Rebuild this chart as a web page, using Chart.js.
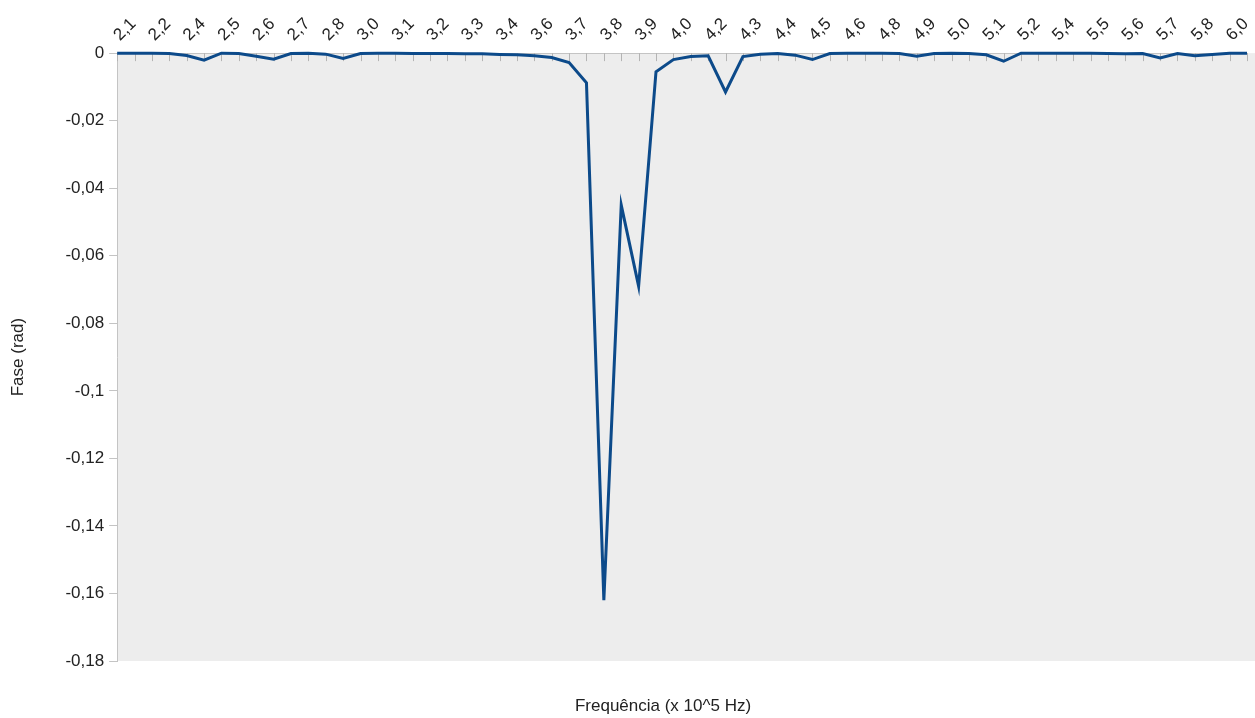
<!DOCTYPE html>
<html>
<head>
<meta charset="utf-8">
<script src="https://cdn.jsdelivr.net/npm/chart.js@4"></script>
<style>
  body { margin: 0; background: #fff; }
  #wrap { width: 1255px; height: 718px; }
</style>
</head>
<body>
<div id="wrap"><canvas id="faseChart"></canvas></div>
<script>
// tick labels shown on the top axis (every other point)
let tickLabels = ["2,1", "2,2", "2,4", "2,5", "2,6", "2,7", "2,8", "3,0", "3,1", "3,2", "3,3",
  "3,4", "3,6", "3,7", "3,8", "3,9", "4,0", "4,2", "4,3", "4,4", "4,5", "4,6", "4,8", "4,9",
  "5,0", "5,1", "5,2", "5,4", "5,5", "5,6", "5,7", "5,8", "6,0"];

// phase (rad), one value per point
let fase = [
  0, 0, 0, -0.0001, -0.0007, -0.0021, 0, -0.0001, -0.0009, -0.0018,
  -0.0001, 0, -0.0003, -0.0016, -0.0001, 0, 0, -0.0001, -0.0001, -0.0001,
  -0.0002, -0.0002, -0.0004, -0.0005, -0.0008, -0.0013, -0.0028, -0.0088, -0.162, -0.045,
  -0.069, -0.0055, -0.0019, -0.001, -0.0008, -0.0115, -0.001, -0.0003, -0.0001, -0.0006,
  -0.0019, -0.0001, 0, 0, 0, -0.0001, -0.0009, -0.0001, 0, -0.0001,
  -0.0005, -0.0024, 0, 0, 0, 0, 0, -0.0001, -0.0002, -0.0001,
  -0.0014, -0.0001, -0.0008, -0.0004, 0, 0
];

let xTitle = "Frequência (x 10^5 Hz)";
let yTitle = "Fase (rad)";

let labels = [];
for (let i = 0; i < fase.length; i++) {
  labels.push(i % 2 === 0 ? (tickLabels[i / 2] || "") : "");
}

let fontFamily = "'Liberation Sans', Arial, sans-serif";

// grey plot background, small ticks pointing down into the plot, x title
let plotDecor = {
  id: "plotDecor",
  beforeDraw(chart) {
    let a = chart.chartArea;
    let ctx = chart.ctx;
    ctx.save();
    ctx.fillStyle = "#ededed";
    ctx.fillRect(a.left, a.top, chart.width - a.left, a.bottom - a.top);
    ctx.restore();
  },
  beforeDatasetsDraw(chart) {
    let a = chart.chartArea;
    let x = chart.scales.x;
    let ctx = chart.ctx;
    ctx.save();
    ctx.strokeStyle = "#b4b4b4";
    ctx.lineWidth = 1;
    for (let i = 0; i < labels.length; i++) {
      let px = Math.round(x.getPixelForValue(i)) + 0.5;
      ctx.beginPath();
      ctx.moveTo(px, a.top);
      ctx.lineTo(px, a.top + 8);
      ctx.stroke();
    }
    ctx.restore();
  },
  afterDraw(chart) {
    let ctx = chart.ctx;
    ctx.save();
    ctx.fillStyle = "#222";
    ctx.font = "17px " + fontFamily;
    ctx.textAlign = "center";
    ctx.textBaseline = "middle";
    ctx.fillText(xTitle, 663, 706);
    ctx.restore();
  }
};

new Chart(document.getElementById("faseChart"), {
  type: "line",
  data: {
    labels: labels,
    datasets: [{
      data: fase,
      borderColor: "#0c4a8a",
      borderWidth: 3,
      pointRadius: 0,
      tension: 0,
      clip: false
    }]
  },
  options: {
    responsive: true,
    maintainAspectRatio: false,
    animation: false,
    layout: { padding: { left: 8, right: 6, top: 6, bottom: 57 } },
    plugins: {
      legend: { display: false },
      tooltip: { enabled: false }
    },
    scales: {
      x: {
        position: "top",
        grid: { drawOnChartArea: false, drawTicks: false },
        border: { color: "#c4c4c4" },
        ticks: {
          autoSkip: false,
          minRotation: 45,
          maxRotation: 45,
          padding: 8,
          labelOffset: 14,
          color: "#222",
          font: { family: fontFamily, size: 17 }
        }
      },
      y: {
        min: -0.18,
        max: 0,
        grid: { drawOnChartArea: false, tickLength: 8, color: "#c4c4c4" },
        border: { color: "#c4c4c4" },
        ticks: {
          stepSize: 0.02,
          padding: 5,
          color: "#222",
          font: { family: fontFamily, size: 17 },
          callback: function (v) {
            return String(Number(v.toFixed(2))).replace(".", ",");
          }
        },
        title: {
          display: true,
          text: yTitle,
          color: "#222",
          font: { family: fontFamily, size: 17 },
          padding: { top: 0, bottom: 32 }
        }
      }
    }
  },
  plugins: [plotDecor]
});
</script>
</body>
</html>
